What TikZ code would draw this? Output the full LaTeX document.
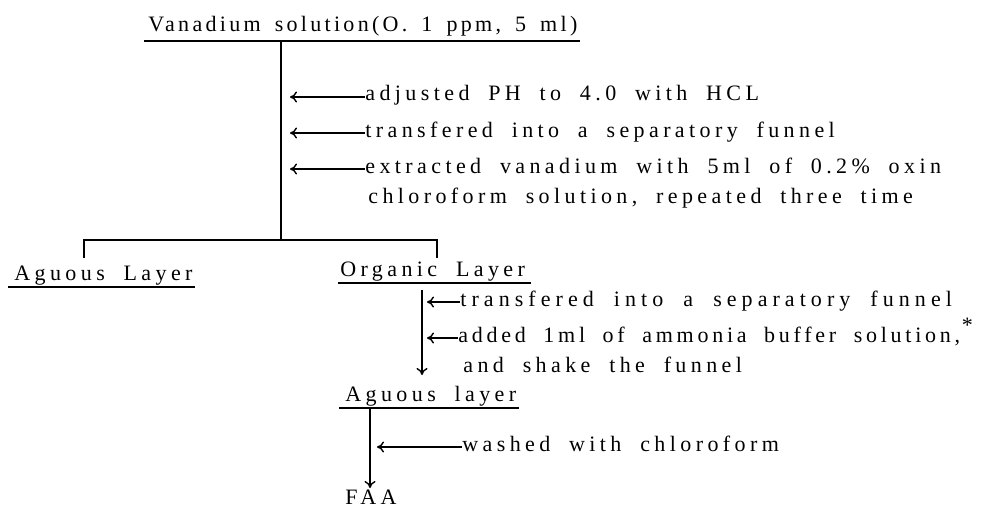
\documentclass[tikz,border=0pt]{standalone}
\usepackage{fontspec}
\setmainfont{Liberation Serif}[LetterSpace=20,WordSpace=1.9]
\newfontfamily\titlefont{Liberation Serif}[LetterSpace=15,WordSpace=1.6]
\newfontfamily\widefont{Liberation Serif}[LetterSpace=23,WordSpace=1.9]
\newfontfamily\tightfont{Liberation Serif}[LetterSpace=17,WordSpace=1.9]
\usetikzlibrary{arrows.meta,positioning}
\tikzset{lbl/.style={inner sep=0pt,anchor=base west,font=\fontsize{11}{13}\selectfont},
  uline/.style={line width=0.6pt},
  stem/.style={line width=0.8pt},
  arrow/.style={-{To[length=3.5pt,width=5.5pt]},line width=0.7pt}}
\def\ah{2pt}
\begin{document}
\begin{tikzpicture}[x=0.5pt,y=-0.5pt]
\useasboundingbox (0,0) rectangle (1000,508);
% source solution
\node[lbl,font=\fontsize{11}{13}\titlefont] (src) at (148,32) {Vanadium solution(O. 1 ppm, 5 ml)};
\draw[uline] ([xshift=-2pt,yshift=-4.5pt]src.base west) -- ([xshift=1pt,yshift=-4.5pt]src.base east);
\coordinate (trunk) at (281,41);
\coordinate (fork) at (281,240);
\draw[stem] (trunk) -- (fork);
% first steps
\coordinate (tipA) at (290,0);
\node[lbl] (s1) at (365,101) {adjusted PH to 4.0 with HCL};
\node[lbl] (s2) at (365,137) {transfered into a separatory funnel};
\node[lbl] (s3) at (365,173) {extracted vanadium with 5ml of 0.2\% oxin};
\node[lbl] (s4) at (368,203) {chloroform solution, repeated three time};
\foreach \s in {s1,s2,s3}
  \draw[arrow] ([yshift=\ah]\s.base west) coordinate (a\s) -- (a\s -| tipA);
% the two layers
\coordinate (dropL) at (84,258);
\coordinate (dropR) at (437,258);
\draw[stem] (dropL) |- (fork) -| (dropR);
\node[lbl] (aq1) at (14,280) {Aguous Layer};
\draw[uline] ([xshift=-3pt,yshift=-3.5pt]aq1.base west) -- ([xshift=1pt,yshift=-3.5pt]aq1.base east);
\node[lbl] (org) at (340,276) {Organic Layer};
\draw[uline] ([xshift=-1pt,yshift=-3.5pt]org.base west) -- ([xshift=3pt,yshift=-3.5pt]org.base east);
% back extraction
\coordinate (tipB) at (427,0);
\node[lbl,font=\fontsize{11}{13}\widefont] (o1) at (460,306) {transfered into a separatory funnel};
\node[lbl,font=\fontsize{11}{13}\tightfont] (o2) at (458,342) {added 1ml of ammonia buffer solution,};
\node[lbl] (o3) at (463,372) {and shake the funnel};
\node[lbl,font=\fontsize{11}{11}\selectfont] (star) at ([xshift=0.5pt,yshift=5pt]o2.base east) {*};
\foreach \s in {o1,o2}
  \draw[arrow] ([yshift=\ah]\s.base west) coordinate (a\s) -- (a\s -| tipB);
\node[lbl] (aq2) at (345,401) {Aguous layer};
\draw[uline] ([xshift=-3pt,yshift=-3.5pt]aq2.base west) -- ([xshift=1pt,yshift=-3.5pt]aq2.base east);
\coordinate (v2top) at (422,290);
\coordinate (v2end) at (422,375);
\draw[arrow] (v2top) -- (v2end);
% washing
\coordinate (tipC) at (377,0);
\node[lbl] (w1) at (462,451) {washed with chloroform};
\draw[arrow] ([yshift=\ah]w1.base west) coordinate (aw1) -- (aw1 -| tipC);
\coordinate (v3top) at (370,409);
\coordinate (v3end) at (370,488);
\draw[arrow] (v3top) -- (v3end);
\node[lbl] (faa) at (345,504) {FAA};
\end{tikzpicture}
\end{document}
